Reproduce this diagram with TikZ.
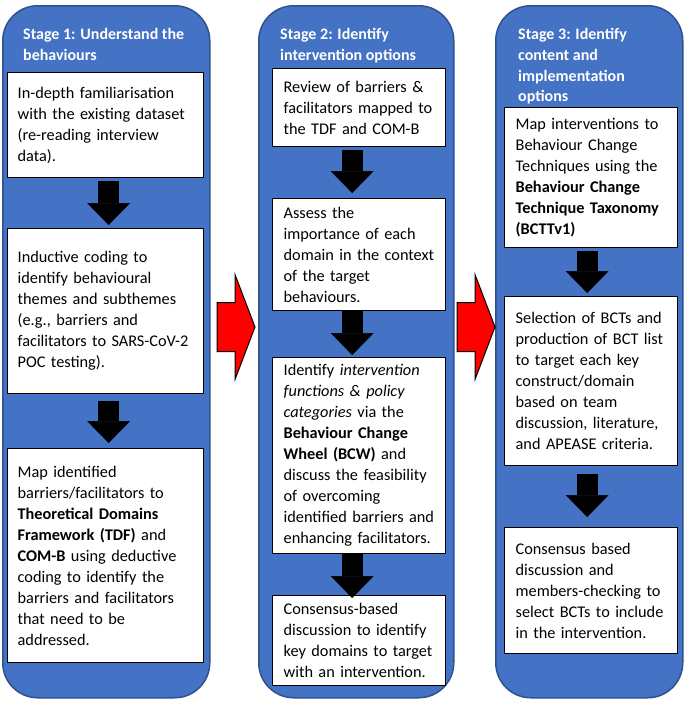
\documentclass[tikz,border=0pt]{standalone}
\usepackage{fontspec}
\setmainfont{Carlito}
\usetikzlibrary{arrows.meta}
\definecolor{stageblue}{HTML}{4472C4}
\definecolor{stageedge}{HTML}{2F528F}
\tikzstyle{stage}=[draw=stageedge,fill=stageblue,line width=1.5pt,rounded corners=35pt,anchor=north west,minimum height=692pt]
\tikzstyle{stagetitle}=[anchor=north west,inner sep=0pt,align=left,text=white,font=\fontsize{16}{20.8}\selectfont\bfseries]
\tikzstyle{task}=[draw=black,fill=white,line width=1.3pt,anchor=north west,align=left,inner xsep=11pt,inner ysep=2pt,text width=151pt,font=\fontsize{16.3}{21}\selectfont]
\tikzstyle{godown}=[line width=21pt,-{Triangle[width=43pt,length=22pt,line width=0.5pt]}]
\tikzstyle{nextstage}=[draw=black,fill=red,line width=1pt]

\begin{document}
\begin{tikzpicture}[x=1pt,y=-1pt]
    \useasboundingbox (0,0) rectangle (685,702);
    \node[stage,minimum width=207pt] (s1) at (2,5) {};
    \node[stage,minimum width=195pt] (s2) at (258,5) {};
    \node[stage,minimum width=187pt] (s3) at (495,5) {};
    \node[stagetitle] (t1) at (23,28) {Stage 1: Understand the\\behaviours};
    \node[stagetitle] (t2) at (280,28) {Stage 2: Identify\\intervention options};
    \node[stagetitle] (t3) at (518,28) {Stage 3: Identify\\content and\\implementation\\options};

    \coordinate (r1) at (217,327);
    \coordinate (r2) at (457,327);
    \draw[nextstage] (r1) ++(0,-24.5) -- ++(18,0) -- ++(0,-28) -- ++(20,52.5) -- ++(-20,52.5) -- ++(0,-28) -- ++(-18,0) -- cycle;
    \draw[nextstage] (r2) ++(0,-24.5) -- ++(18,0) -- ++(0,-28) -- ++(20,52.5) -- ++(-20,52.5) -- ++(0,-28) -- ++(-18,0) -- cycle;

    \node[task,inner xsep=10pt,text width=176pt,minimum height=105pt] (b11) at (7,72) {In-depth familiarisation\\with the existing dataset\\(re-reading interview\\data).};
    \node[task,inner xsep=10pt,text width=176pt,minimum height=165pt] (b12) at (7,228) {Inductive coding to\\identify behavioural\\themes and subthemes\\(e.g., barriers and\\facilitators to SARS-CoV-2\\POC testing).};
    \node[task,inner xsep=10pt,text width=176pt,minimum height=214pt] (b13) at (7,448) {Map identified\\barriers/facilitators to\\\textbf{Theoretical Domains}\\\textbf{Framework (TDF)} and\\\textbf{COM-B} using deductive\\coding to identify the\\barriers and facilitators\\that need to be\\addressed.};

    \node[task,minimum height=78pt] (b21) at (272,68) {Review of barriers \&\\facilitators mapped to\\the TDF and COM-B};
    \node[task,minimum height=112pt] (b22) at (272,198) {Assess the\\importance of each\\domain in the context\\of the target\\behaviours.};
    \node[task,minimum height=196pt] (b23) at (272,357) {Identify \textit{intervention}\\\textit{functions \& policy}\\\textit{categories} via the\\\textbf{Behaviour Change}\\\textbf{Wheel (BCW)} and\\discuss the feasibility\\of overcoming\\identified barriers and\\enhancing facilitators.};
    \node[task,minimum height=90pt] (b24) at (272,595) {Consensus-based\\discussion to identify\\key domains to target\\with an intervention.};

    \node[task,minimum height=140pt] (b31) at (504,107) {Map interventions to\\Behaviour Change\\Techniques using the\\\textbf{Behaviour Change}\\\textbf{Technique Taxonomy}\\\textbf{(BCTTv1)}};
    \node[task,minimum height=169pt] (b32) at (504,296) {Selection of BCTs and\\production of BCT list\\to target each key\\construct/domain\\based on team\\discussion, literature,\\and APEASE criteria.};
    \node[task,minimum height=126pt] (b33) at (504,527) {Consensus based\\discussion and\\members-checking to\\select BCTs to include\\in the intervention.};

    \draw[godown,shorten <=3pt,shorten >=3pt] ([xshift=3pt]b11.south) -- ([xshift=3pt]b12.north);
    \draw[godown,shorten <=7pt,shorten >=5pt] ([xshift=3pt]b12.south) -- ([xshift=3pt]b13.north);
    \draw[godown,shorten <=3pt,shorten >=5pt] ([xshift=-7pt]b21.south) -- ([xshift=-7pt]b22.north);
    \draw[godown,shorten >=2pt] ([xshift=-7pt]b22.south) -- ([xshift=-7pt]b23.north);
    \draw[godown,shorten >=-3pt] ([xshift=-7pt]b23.south) -- ([xshift=-7pt]b24.north);
    \draw[godown,shorten <=3pt,shorten >=3pt] ([xshift=-4pt]b31.south) -- ([xshift=-4pt]b32.north);
    \draw[godown,shorten <=8pt,shorten >=10pt] ([xshift=-4pt]b32.south) -- ([xshift=-4pt]b33.north);
\end{tikzpicture}
\end{document}
